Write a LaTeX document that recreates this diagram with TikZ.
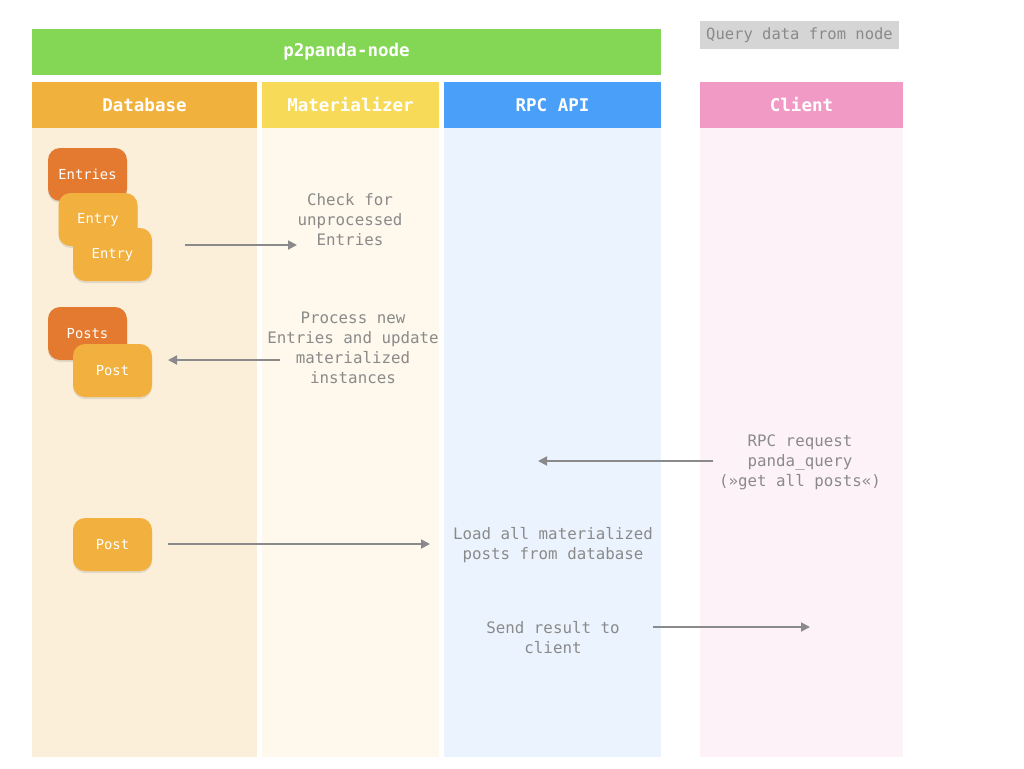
\documentclass[tikz,border=0pt]{standalone}
\usepackage{fontspec}
\setmainfont{DejaVu Sans Mono}
\usetikzlibrary{arrows.meta,shadows}
\definecolor{nodegreen}{RGB}{131,215,84}
\definecolor{dbhead}{RGB}{241,177,61}
\definecolor{dbbody}{RGB}{251,239,217}
\definecolor{mathead}{RGB}{248,218,89}
\definecolor{matbody}{RGB}{254,249,236}
\definecolor{rpchead}{RGB}{74,159,248}
\definecolor{rpcbody}{RGB}{235,244,254}
\definecolor{clihead}{RGB}{241,154,198}
\definecolor{clibody}{RGB}{253,242,248}
\definecolor{cardorange}{RGB}{242,176,62}
\definecolor{carddark}{RGB}{227,122,48}
\definecolor{notegray}{RGB}{138,138,138}
\definecolor{querygray}{RGB}{213,213,213}

\begin{document}
\begin{tikzpicture}[x=1pt,y=-1pt,
    head/.style={minimum height=46pt, inner sep=0pt, text=white,
      font=\fontsize{17.5}{20}\selectfont\bfseries},
    card/.style={fill=cardorange, rounded corners=12pt, minimum width=79pt,
      minimum height=53pt, inner sep=0pt, text=white,
      font=\fontsize{13.8}{16}\selectfont,
      drop shadow={shadow xshift=0pt, shadow yshift=-2pt, opacity=.2}},
    darkcard/.style={card, fill=carddark},
    note/.style={align=center, text=notegray, inner sep=0pt,
      font=\fontsize{15.8}{20}\selectfont},
    flow/.style={draw=notegray, line width=1.8pt,
      -{Triangle[length=9pt,width=9pt]}}]
  \useasboundingbox[fill=white] (0,0) rectangle (1024,768);

  % lanes
  \fill[dbbody] (32,128) rectangle (257,757);
  \fill[matbody] (262,128) rectangle (439,757);
  \fill[rpcbody] (444,128) rectangle (661,757);
  \fill[clibody] (700,128) rectangle (903,757);

  % headers
  \node (hnode) at (346.5,52) [head, fill=nodegreen, minimum width=629pt] {p2panda-node};
  \node (hdb) at (144.5,105) [head, fill=dbhead, minimum width=225pt] {Database};
  \node (hmat) at (350.5,105) [head, fill=mathead, minimum width=177pt] {Materializer};
  \node (hrpc) at (552.5,105) [head, fill=rpchead, minimum width=217pt] {RPC API};
  \node (hcli) at (801.5,105) [head, fill=clihead, minimum width=203pt] {Client};
  \node (query) at (799.5,35) [fill=querygray, text=notegray, inner sep=0pt,
    minimum width=199pt, minimum height=28pt,
    font=\fontsize{15.5}{16}\selectfont] {Query data from node};

  % database cards
  \node (entries) at (87.5,174.5) [darkcard] {Entries};
  \node (entrya) at (98,219.5) [card] {Entry};
  \node (entryb) at (112.5,254.5) [card] {Entry};
  \node (posts) at (87.5,333.5) [darkcard] {Posts};
  \node (post) at (112.5,370.5) [card] {Post};
  \node (postb) at (112.5,544.5) [card] {Post};

  % notes
  \node (check) at (350,220) [note] {Check for\\unprocessed\\Entries};
  \node (process) at (353,348) [note] {Process new\\Entries and update\\materialized\\instances};
  \node (request) at (800,462) [note] {RPC request\\panda\_query\\(»get all posts«)};
  \node (load) at (553,545) [note] {Load all materialized\\posts from database};
  \node (send) at (553,638) [note] {Send result to\\client};

  % arrows
  \coordinate (a1) at (185,245);
  \coordinate (b1) at (297,245);
  \coordinate (a2) at (280,360);
  \coordinate (b2) at (168,360);
  \coordinate (a3) at (713,461);
  \coordinate (b3) at (538,461);
  \coordinate (a4) at (168,544);
  \coordinate (b4) at (430,544);
  \coordinate (a5) at (653,627);
  \coordinate (b5) at (810,627);
  \draw[flow] (a1) -- (b1);
  \draw[flow] (a2) -- (b2);
  \draw[flow] (a3) -- (b3);
  \draw[flow] (a4) -- (b4);
  \draw[flow] (a5) -- (b5);
\end{tikzpicture}
\end{document}
